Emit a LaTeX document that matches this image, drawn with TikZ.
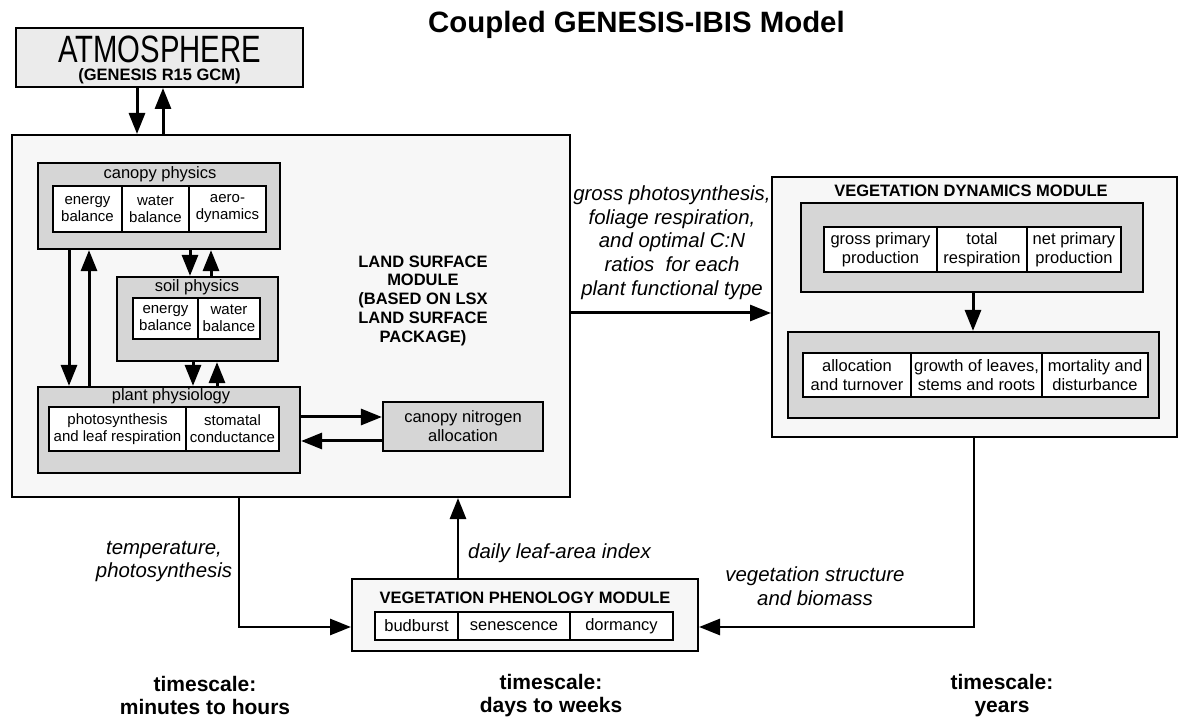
\documentclass[tikz,border=0pt]{standalone}
\usepackage{fontspec}
\setmainfont{Liberation Sans}
\usetikzlibrary{arrows.meta}
\begin{document}
\begin{tikzpicture}[x=1pt,y=-1pt,
  outer/.style={draw, line width=2pt, fill=gray!6, inner sep=0},
  modbox/.style={draw, line width=2.2pt, fill=gray!32, inner sep=0},
  cell/.style={draw, line width=1.8pt, fill=white, inner sep=0, align=center},
  csm/.style={font=\fontsize{15}{17}\selectfont},
  cmd/.style={font=\fontsize{16.5}{19}\selectfont},
  lbl/.style={font=\fontsize{16.5}{19}\selectfont, inner sep=0, anchor=base},
  hdr/.style={font=\bfseries\fontsize{16.5}{18.75}\selectfont, inner sep=0, align=center},
  itl/.style={font=\itshape\fontsize{20.4}{23.7}\selectfont, inner sep=0, align=center},
  tsc/.style={font=\bfseries\fontsize{21}{23}\selectfont, inner sep=0, align=center},
  arr/.style={line width=3pt, -{Triangle[length=21pt,width=16pt]}},
  arrb/.style={line width=2.6pt, -{Triangle[length=21pt,width=16pt]}},
]
\useasboundingbox (0,0) rectangle (1179,719);

% title
\node[font=\bfseries\fontsize{29.4}{32}\selectfont, anchor=base west, inner sep=0] (title) at (428,33) {Coupled GENESIS-IBIS Model};

% atmosphere
\node[outer, fill=gray!16, minimum width=287pt, minimum height=59pt] (atm) at (159.5,57.5) {};
\node[hdr, font=\bfseries\fontsize{16.5}{18.5}\selectfont] (atmtxt) at (159.5,59.9)
  {\scalebox{1}[1.3]{\mdseries\fontsize{29.3}{30}\selectfont ATMOSPHERE}\\(GENESIS R15 GCM)};

% land surface module
\node[outer, minimum width=558pt, minimum height=362pt] (land) at (291,316) {};
\node[hdr] (landtxt) at (423,300.5) {LAND SURFACE\\MODULE\\(BASED ON LSX\\LAND SURFACE\\PACKAGE)};

% canopy physics
\node[modbox, minimum width=242pt, minimum height=86pt] (cp) at (159,206) {};
\node[lbl] (cplab) at (160,179) {canopy physics};
\node[cell, csm, minimum width=69pt, minimum height=46pt] (cpe) at (87.5,209) {energy\\balance};
\node[cell, csm, minimum width=67pt, minimum height=46pt] (cpw) at (155.5,209) {water\\balance};
\node[cell, csm, minimum width=77pt, minimum height=46pt] (cpa) at (227.5,209) {aero-\\dynamics};

% soil physics
\node[modbox, minimum width=161pt, minimum height=84pt] (sp) at (197.5,319) {};
\node[lbl] (splab) at (197,292) {soil physics};
\node[cell, csm, minimum width=65pt, minimum height=41pt] (spe) at (165.5,318.5) {energy\\balance};
\node[cell, csm, minimum width=62pt, minimum height=41pt] (spw) at (229,318.5) {water\\balance};

% plant physiology
\node[modbox, minimum width=262pt, minimum height=86pt] (pp) at (169,430) {};
\node[lbl] (pplab) at (171,401) {plant physiology};
\node[cell, csm, minimum width=137pt, minimum height=44pt] (ppp) at (117.5,429) {photosynthesis\\and leaf respiration};
\node[cell, csm, minimum width=93pt, minimum height=44pt] (pps) at (232.5,429) {stomatal\\conductance};

% canopy nitrogen allocation
\node[modbox, cmd, align=center, minimum width=160pt, minimum height=49pt] (cn) at (463,426.5) {canopy nitrogen\\allocation};

% vegetation dynamics module
\node[outer, minimum width=405pt, minimum height=260pt] (vdm) at (974.5,307) {};
\node[hdr, anchor=base] (vdmlab) at (971,197) {VEGETATION DYNAMICS MODULE};
\node[modbox, minimum width=342pt, minimum height=89pt] (gpp) at (972,247.5) {};
\node[cell, cmd, minimum width=113pt, minimum height=45pt] (gp1) at (880.5,249.5) {gross primary\\production};
\node[cell, cmd, minimum width=90pt, minimum height=45pt] (gp2) at (982,249.5) {total\\respiration};
\node[cell, cmd, minimum width=94pt, minimum height=45pt] (gp3) at (1074,249.5) {net primary\\production};
\node[modbox, minimum width=371pt, minimum height=86pt] (alc) at (973.5,375) {};
\node[cell, cmd, minimum width=108pt, minimum height=44pt] (al1) at (857,375) {allocation\\and turnover};
\node[cell, cmd, minimum width=131pt, minimum height=44pt] (al2) at (976.5,375) {growth of leaves,\\stems and roots};
\node[cell, cmd, minimum width=106pt, minimum height=44pt] (al3) at (1095,375) {mortality and\\disturbance};

% vegetation phenology module
\node[outer, minimum width=346pt, minimum height=72pt] (phen) at (525,615) {};
\node[hdr, anchor=base] (phenlab) at (525,603) {VEGETATION PHENOLOGY MODULE};
\node[cell, cmd, minimum width=83pt, minimum height=28pt] (ph1) at (416.5,626) {budburst};
\node[cell, cmd, minimum width=112pt, minimum height=28pt] (ph2) at (514,626) {senescence};
\node[cell, cmd, minimum width=103pt, minimum height=28pt] (ph3) at (621.5,626) {dormancy};

% connectors
\draw[arr] (137,0 |- atm.south) -- (137,0 |- land.north);
\draw[arr] (163,0 |- land.north) -- (163,0 |- atm.south);
\draw[arr] (69,0 |- cp.south) -- (69,0 |- pp.north);
\draw[arr] (89,0 |- pp.north) -- (89,0 |- cp.south);
\draw[arr] (190,0 |- cp.south) -- (190,0 |- sp.north);
\draw[arr] (211,0 |- sp.north) -- (211,0 |- cp.south);
\draw[arr] (193,0 |- sp.south) -- (193,0 |- pp.north);
\draw[arr] (217,0 |- pp.north) -- (217,0 |- sp.south);
\draw[arr] (pp.east |- 0,417) -- (cn.west |- 0,417);
\draw[arr] (cn.west |- 0,441) -- (pp.east |- 0,441);
\draw[arr] (land.east |- 0,313) -- (vdm.west |- 0,313);
\draw[arr] (973,0 |- gpp.south) -- (973,0 |- alc.north);
\draw[arrb] (458,0 |- phen.north) -- (458,0 |- land.south);
\draw[arrb] (239,0 |- land.south) |- (phen.west |- 0,627);
\draw[arrb] (974,0 |- vdm.south) |- (phen.east |- 0,627);

% connector labels
\node[itl] (gplabel) at (672,242.5) {gross photosynthesis,\\foliage respiration,\\and optimal C:N\\ratios\ \ for each\\plant functional type};
\node[itl, anchor=west] (lai) at (468,553) {daily leaf-area index};
\node[itl] (temp) at (164,561.5) {temperature,\\photosynthesis};
\node[itl] (vs) at (815,586.5) {vegetation structure\\and biomass};

% timescales
\node[tsc] (ts1) at (205,695.5) {timescale:\\minutes to hours};
\node[tsc] (ts2) at (551,695.5) {timescale:\\days to weeks};
\node[tsc] (ts3) at (1002,695.5) {timescale:\\years};
\end{tikzpicture}
\end{document}
